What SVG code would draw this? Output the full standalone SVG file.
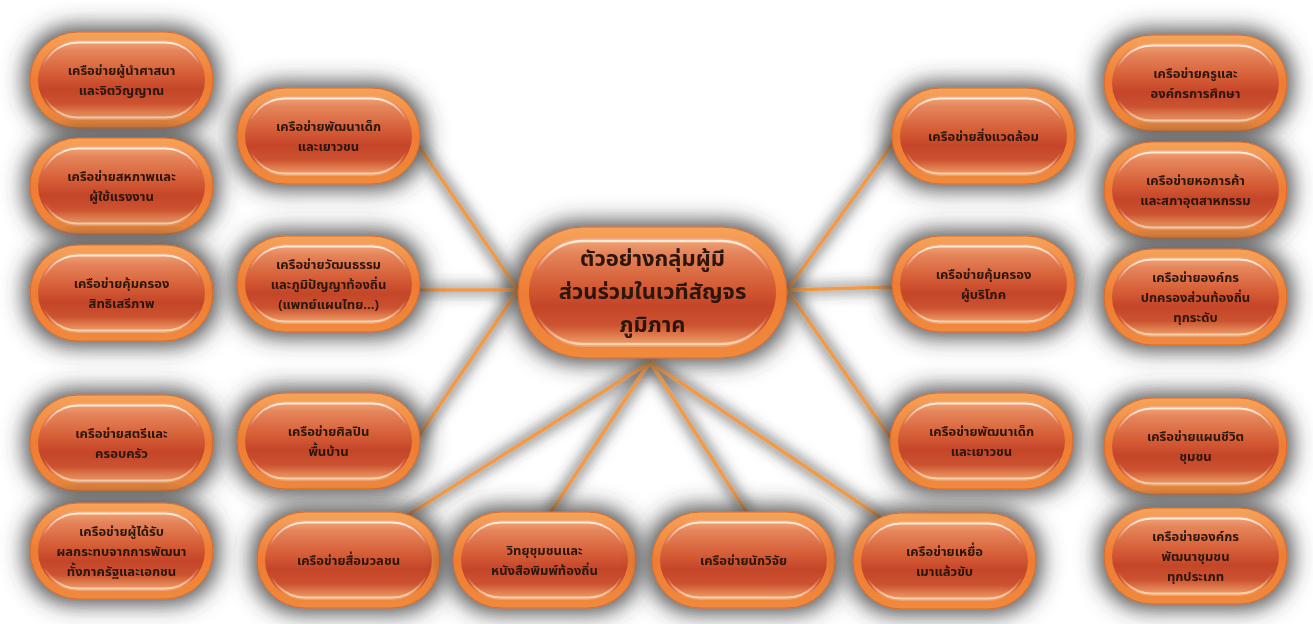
<svg xmlns="http://www.w3.org/2000/svg" xmlns:xlink="http://www.w3.org/1999/xlink" width="1313" height="624" viewBox="0 0 1313 624">
<defs>
<style>
.t{font-family:"Noto Sans Thai","Noto Sans","Liberation Sans",sans-serif;font-weight:bold;fill:#2a160c;text-anchor:middle;font-size:13px}
.tc{font-size:22px}
.ln{stroke:#f29a46;stroke-width:3.5;stroke-linecap:round;fill:none}
</style>
<linearGradient id="ringG" x1="0" y1="0" x2="0" y2="1">
<stop offset="0" stop-color="#f6a35a"/><stop offset="0.5" stop-color="#ee7c33"/><stop offset="1" stop-color="#f08a3c"/>
</linearGradient>
<linearGradient id="bodyG" x1="0" y1="0" x2="0" y2="1">
<stop offset="0" stop-color="#f2a87c"/><stop offset="0.14" stop-color="#e5845a"/><stop offset="0.45" stop-color="#d45a34"/><stop offset="0.62" stop-color="#c4452a"/><stop offset="0.8" stop-color="#cc5330"/><stop offset="0.92" stop-color="#e58656"/><stop offset="1" stop-color="#efa274"/>
</linearGradient>
<linearGradient id="rimG" x1="0" y1="0" x2="0" y2="1">
<stop offset="0" stop-color="#fff0dc" stop-opacity="0.95"/><stop offset="0.3" stop-color="#fff0dc" stop-opacity="0"/><stop offset="0.72" stop-color="#ffd8b0" stop-opacity="0"/><stop offset="1" stop-color="#ffd8b0" stop-opacity="0.9"/>
</linearGradient>
<filter id="glow" x="-30%" y="-60%" width="160%" height="220%">
<feMorphology in="SourceAlpha" operator="dilate" radius="5" result="d"/>
<feGaussianBlur in="d" stdDeviation="11" result="b"/>
<feFlood flood-color="#3a3a3a" flood-opacity="0.9"/>
<feComposite in2="b" operator="in" result="s"/>
<feMerge><feMergeNode in="s"/><feMergeNode in="SourceGraphic"/></feMerge>
</filter>
<filter id="lglow" x="-20%" y="-20%" width="140%" height="140%">
<feMorphology in="SourceAlpha" operator="dilate" radius="2" result="d"/>
<feGaussianBlur in="d" stdDeviation="7" result="b"/>
<feFlood flood-color="#3a3a3a" flood-opacity="0.75"/>
<feComposite in2="b" operator="in" result="s"/>
<feMerge><feMergeNode in="s"/><feMergeNode in="SourceGraphic"/></feMerge>
</filter>
<g id="pill">
<rect x="0" y="0" width="183" height="96" rx="48" fill="url(#ringG)" stroke="#d66a2c" stroke-width="1"/>
<rect x="8" y="8" width="167" height="80" rx="40" fill="url(#bodyG)"/>
<rect x="10.5" y="10.5" width="162" height="75" rx="37.5" fill="none" stroke="url(#rimG)" stroke-width="2"/>
</g>
</defs>
<rect width="1313" height="624" fill="#ffffff"/>

<g id="connectors" filter="url(#lglow)">
<line class="ln" x1="518" y1="290" x2="418" y2="145"/>
<line class="ln" x1="518" y1="290" x2="418" y2="290"/>
<line class="ln" x1="518" y1="290" x2="418" y2="437"/>
<line class="ln" x1="650" y1="362" x2="408" y2="515"/>
<line class="ln" x1="650" y1="362" x2="550" y2="513"/>
<line class="ln" x1="650" y1="362" x2="747" y2="513"/>
<line class="ln" x1="650" y1="362" x2="880" y2="517"/>
<line class="ln" x1="787" y1="290" x2="894" y2="142"/>
<line class="ln" x1="787" y1="290" x2="894" y2="287"/>
<line class="ln" x1="787" y1="290" x2="892" y2="440"/>
</g>

<g id="center" filter="url(#glow)" transform="translate(518,227)">
<rect x="0" y="0" width="269" height="131" rx="65.5" fill="url(#ringG)" stroke="#d66a2c" stroke-width="1"/>
<rect x="11" y="11" width="247" height="109" rx="54.5" fill="url(#bodyG)"/>
<rect x="14" y="14" width="241" height="103" rx="51.5" fill="none" stroke="url(#rimG)" stroke-width="2.5"/>
<text class="t tc"><tspan x="134.5" y="39">ตัวอย่างกลุ่มผู้มี</tspan><tspan x="134.5" y="72">ส่วนร่วมในเวทีสัญจร</tspan><tspan x="134.5" y="105">ภูมิภาค</tspan></text>
</g>

<g id="n1" filter="url(#glow)" transform="translate(30,32)"><use xlink:href="#pill"/><text class="t"><tspan x="91.5" y="43">เครือข่ายผู้นำศาสนา</tspan><tspan x="91.5" y="63">และจิตวิญญาณ</tspan></text></g>
<g id="n2" filter="url(#glow)" transform="translate(30,138)"><use xlink:href="#pill"/><text class="t"><tspan x="91.5" y="43">เครือข่ายสหภาพและ</tspan><tspan x="91.5" y="63">ผู้ใช้แรงงาน</tspan></text></g>
<g id="n3" filter="url(#glow)" transform="translate(30,245)"><use xlink:href="#pill"/><text class="t"><tspan x="91.5" y="43">เครือข่ายคุ้มครอง</tspan><tspan x="91.5" y="63">สิทธิเสรีภาพ</tspan></text></g>
<g id="n4" filter="url(#glow)" transform="translate(30,395)"><use xlink:href="#pill"/><text class="t"><tspan x="91.5" y="43">เครือข่ายสตรีและ</tspan><tspan x="91.5" y="63">ครอบครัว</tspan></text></g>
<g id="n5" filter="url(#glow)" transform="translate(30,503)"><use xlink:href="#pill"/><text class="t"><tspan x="91.5" y="33">เครือข่ายผู้ได้รับ</tspan><tspan x="91.5" y="53">ผลกระทบจากการพัฒนา</tspan><tspan x="91.5" y="73">ทั้งภาครัฐและเอกชน</tspan></text></g>

<g id="n6" filter="url(#glow)" transform="translate(237,88)"><use xlink:href="#pill"/><text class="t"><tspan x="91.5" y="43">เครือข่ายพัฒนาเด็ก</tspan><tspan x="91.5" y="63">และเยาวชน</tspan></text></g>
<g id="n7" filter="url(#glow)" transform="translate(237,236)"><use xlink:href="#pill"/><text class="t"><tspan x="91.5" y="33">เครือข่ายวัฒนธรรม</tspan><tspan x="91.5" y="53">และภูมิปัญญาท้องถิ่น</tspan><tspan x="91.5" y="73">(แพทย์แผนไทย...)</tspan></text></g>
<g id="n8" filter="url(#glow)" transform="translate(237,393)"><use xlink:href="#pill"/><text class="t"><tspan x="91.5" y="43">เครือข่ายศิลปิน</tspan><tspan x="91.5" y="63">พื้นบ้าน</tspan></text></g>

<g id="n9" filter="url(#glow)" transform="translate(257,512)"><use xlink:href="#pill"/><text class="t" x="91.5" y="53">เครือข่ายสื่อมวลชน</text></g>
<g id="n10" filter="url(#glow)" transform="translate(453,512)"><use xlink:href="#pill"/><text class="t"><tspan x="91.5" y="43">วิทยุชุมชนและ</tspan><tspan x="91.5" y="63">หนังสือพิมพ์ท้องถิ่น</tspan></text></g>
<g id="n11" filter="url(#glow)" transform="translate(652,512)"><use xlink:href="#pill"/><text class="t" x="91.5" y="53">เครือข่ายนักวิจัย</text></g>
<g id="n12" filter="url(#glow)" transform="translate(853,513)"><use xlink:href="#pill"/><text class="t"><tspan x="91.5" y="43">เครือข่ายเหยื่อ</tspan><tspan x="91.5" y="63">เมาแล้วขับ</tspan></text></g>

<g id="n13" filter="url(#glow)" transform="translate(892,88)"><use xlink:href="#pill"/><text class="t" x="91.5" y="53">เครือข่ายสิ่งแวดล้อม</text></g>
<g id="n14" filter="url(#glow)" transform="translate(892,236)"><use xlink:href="#pill"/><text class="t"><tspan x="91.5" y="43">เครือข่ายคุ้มครอง</tspan><tspan x="91.5" y="63">ผู้บริโภค</tspan></text></g>
<g id="n15" filter="url(#glow)" transform="translate(890,393)"><use xlink:href="#pill"/><text class="t"><tspan x="91.5" y="43">เครือข่ายพัฒนาเด็ก</tspan><tspan x="91.5" y="63">และเยาวชน</tspan></text></g>

<g id="n16" filter="url(#glow)" transform="translate(1104,35)"><use xlink:href="#pill"/><text class="t"><tspan x="91.5" y="43">เครือข่ายครูและ</tspan><tspan x="91.5" y="63">องค์กรการศึกษา</tspan></text></g>
<g id="n17" filter="url(#glow)" transform="translate(1104,142)"><use xlink:href="#pill"/><text class="t"><tspan x="91.5" y="43">เครือข่ายหอการค้า</tspan><tspan x="91.5" y="63">และสภาอุตสาหกรรม</tspan></text></g>
<g id="n18" filter="url(#glow)" transform="translate(1104,249)"><use xlink:href="#pill"/><text class="t"><tspan x="91.5" y="33">เครือข่ายองค์กร</tspan><tspan x="91.5" y="53">ปกครองส่วนท้องถิ่น</tspan><tspan x="91.5" y="73">ทุกระดับ</tspan></text></g>
<g id="n19" filter="url(#glow)" transform="translate(1104,398)"><use xlink:href="#pill"/><text class="t"><tspan x="91.5" y="43">เครือข่ายแผนชีวิต</tspan><tspan x="91.5" y="63">ชุมชน</tspan></text></g>
<g id="n20" filter="url(#glow)" transform="translate(1104,508)"><use xlink:href="#pill"/><text class="t"><tspan x="91.5" y="33">เครือข่ายองค์กร</tspan><tspan x="91.5" y="53">พัฒนาชุมชน</tspan><tspan x="91.5" y="73">ทุกประเภท</tspan></text></g>
</svg>
